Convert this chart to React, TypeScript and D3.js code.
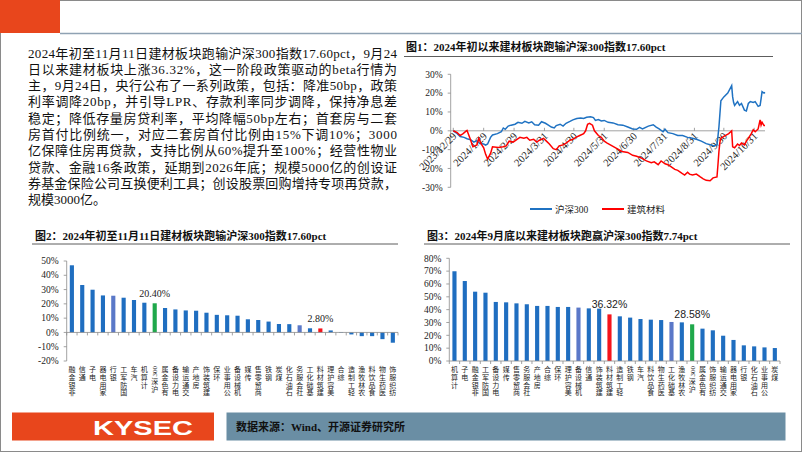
import React from "react";
import * as d3 from "d3";

const SERIF = '"Liberation Serif", "Times New Roman", "Noto Sans CJK SC", serif';
const SANS = '"Liberation Sans", Arial, "Noto Sans CJK SC", sans-serif';
const CJK = '"Noto Sans CJK SC", "Liberation Serif", serif';

// ---------- text block ----------
const paragraphLines = [
  "2024年初至11月11日建材板块跑输沪深300指数17.60pct，9月24",
  "日以来建材板块上涨36.32%，这一阶段政策驱动的beta行情为",
  "主，9月24日，央行公布了一系列政策，包括：降准50bp，政策",
  "利率调降20bp，并引导LPR、存款利率同步调降，保持净息差",
  "稳定；降低存量房贷利率，平均降幅50bp左右；首套房与二套",
  "房首付比例统一，对应二套房首付比例由15%下调10%；3000",
  "亿保障住房再贷款，支持比例从60%提升至100%；经营性物业",
  "贷款、金融16条政策，延期到2026年底；规模5000亿的创设证",
  "券基金保险公司互换便利工具；创设股票回购增持专项再贷款，",
  "规模3000亿。",
];

// ---------- chart 1 ----------
const title1 = "图1：2024年初以来建材板块跑输沪深300指数17.60pct";
const yTicks1 = [-30, -20, -10, 0, 10, 20, 30];
const xTickLabels1 = [
  "2023/12/29", "2024/1/29", "2024/2/29", "2024/3/31", "2024/4/30", "2024/5/31",
  "2024/6/30", "2024/7/31", "2024/8/31", "2024/9/30", "2024/10/31",
];
const dateDomain1 = ["2023-12-29", "2024-11-11"];
const seriesNames1 = ["沪深300", "建筑材料"];

const hs300Dates = [
  "2023-12-29", "2024-01-02", "2024-01-05", "2024-01-09", "2024-01-12", "2024-01-16", "2024-01-19",
  "2024-01-22", "2024-01-25", "2024-01-29", "2024-01-31", "2024-02-02", "2024-02-05", "2024-02-07",
  "2024-02-12", "2024-02-16", "2024-02-18", "2024-02-20", "2024-02-23", "2024-02-26", "2024-03-01",
  "2024-03-04", "2024-03-08", "2024-03-11", "2024-03-15", "2024-03-18", "2024-03-21", "2024-03-25",
  "2024-03-28", "2024-04-01", "2024-04-04", "2024-04-07", "2024-04-10", "2024-04-12", "2024-04-16",
  "2024-04-19", "2024-04-22", "2024-04-26", "2024-04-29", "2024-05-03", "2024-05-07", "2024-05-10",
  "2024-05-13", "2024-05-17", "2024-05-20", "2024-05-22", "2024-05-25", "2024-05-28", "2024-05-31",
  "2024-06-04", "2024-06-09", "2024-06-14", "2024-06-19", "2024-06-24", "2024-06-29", "2024-07-03",
  "2024-07-06", "2024-07-09", "2024-07-15", "2024-07-20", "2024-07-23", "2024-07-26", "2024-07-30",
  "2024-08-01", "2024-08-04", "2024-08-09", "2024-08-14", "2024-08-19", "2024-08-24", "2024-08-29",
  "2024-09-02", "2024-09-07", "2024-09-12", "2024-09-17", "2024-09-20", "2024-09-23", "2024-09-24",
  "2024-09-25", "2024-09-26", "2024-09-27", "2024-09-30", "2024-10-04", "2024-10-08", "2024-10-09",
  "2024-10-10", "2024-10-11", "2024-10-14", "2024-10-16", "2024-10-18", "2024-10-21", "2024-10-23",
  "2024-10-25", "2024-10-27", "2024-10-30", "2024-11-01", "2024-11-04", "2024-11-06", "2024-11-07",
  "2024-11-08", "2024-11-10", "2024-11-11",
];
const hs300Values = [
  0, -1.5, -3.0, -3.5, -4.2, -4.8, -6.0,
  -5.2, -6.8, -7.0, -7.6, -7.0, -3.5, -2.2,
  -1.5, -0.5, 1.5, 0.8, 2.5, 3.0, 3.5,
  4.5, 4.0, 5.0, 4.2, 4.8, 3.2, 3.0,
  4.8, 4.0, 3.0, 2.0, 1.5, 2.8, 3.5,
  2.5, 4.0, 5.0, 5.8, 6.5, 6.8, 6.5,
  7.2, 7.5, 7.0, 5.5, 6.0, 5.2, 5.5,
  4.5, 4.2, 3.2, 3.0, 2.0, 1.0, 0.8,
  1.8, 1.0, 2.5, 3.2, 2.0, 1.0, -0.5,
  0.8, -1.0, -1.5, -2.5, -2.5, -3.5, -4.0,
  -4.5, -5.5, -6.8, -7.5, -8.0, -7.5, -3.0,
  2.0, 9.0, 16.0, 18.0, 20.0, 24.0, 18.0,
  15.0, 13.5, 15.5, 13.5, 14.5, 11.0, 10.5,
  14.5, 15.5, 15.0, 15.5, 13.0, 13.5, 17.0,
  20.8, 20.0, 20.4,
];

const jcDates = [
  "2023-12-29", "2024-01-02", "2024-01-05", "2024-01-08", "2024-01-11", "2024-01-12", "2024-01-15",
  "2024-01-18", "2024-01-22", "2024-01-24", "2024-01-26", "2024-01-29", "2024-01-31", "2024-02-02",
  "2024-02-05", "2024-02-07", "2024-02-13", "2024-02-18", "2024-02-21", "2024-02-24", "2024-02-28",
  "2024-03-03", "2024-03-06", "2024-03-10", "2024-03-13", "2024-03-16", "2024-03-20", "2024-03-23",
  "2024-03-26", "2024-03-30", "2024-04-02", "2024-04-05", "2024-04-09", "2024-04-12", "2024-04-15",
  "2024-04-19", "2024-04-22", "2024-04-26", "2024-04-29", "2024-05-02", "2024-05-06", "2024-05-10",
  "2024-05-12", "2024-05-14", "2024-05-16", "2024-05-19", "2024-05-21", "2024-05-25", "2024-05-28",
  "2024-05-31", "2024-06-03", "2024-06-08", "2024-06-13", "2024-06-18", "2024-06-24", "2024-06-29",
  "2024-07-03", "2024-07-08", "2024-07-13", "2024-07-18", "2024-07-21", "2024-07-25", "2024-07-28",
  "2024-08-01", "2024-08-04", "2024-08-07", "2024-08-11", "2024-08-14", "2024-08-18", "2024-08-21",
  "2024-08-24", "2024-08-26", "2024-08-29", "2024-09-02", "2024-09-06", "2024-09-09", "2024-09-12",
  "2024-09-16", "2024-09-19", "2024-09-23", "2024-09-24", "2024-09-25", "2024-09-26", "2024-09-27",
  "2024-09-30", "2024-10-05", "2024-10-08", "2024-10-09", "2024-10-11", "2024-10-14", "2024-10-16",
  "2024-10-18", "2024-10-21", "2024-10-23", "2024-10-25", "2024-10-28", "2024-10-30", "2024-11-01",
  "2024-11-04", "2024-11-06", "2024-11-07", "2024-11-08", "2024-11-10", "2024-11-11",
];
const jcValues = [
  0, -1.0, -2.5, -1.5, -0.2, 0.2, -4.0,
  -8.5, -7.5, -4.0, -6.5, -9.0, -12.5, -15.0,
  -12.0, -8.5, -8.8, -8.5, -8.0, -5.5, -6.0,
  -4.5, -3.5, -4.0, -3.5, -5.0, -4.5, -6.0,
  -5.0, -4.0, -5.5, -7.0, -9.5, -10.0, -8.0,
  -7.5, -6.5, -5.0, -4.5, -3.5, -2.5, -1.5,
  0.0, 3.5, 4.0, 3.0, 0.0, -2.5, -3.5,
  -5.5, -6.5, -8.0, -9.5, -11.0, -11.5, -13.0,
  -13.5, -14.5, -16.0, -17.0, -16.5, -18.0, -16.0,
  -17.5, -18.0, -19.0, -20.5, -21.0, -22.5, -23.5,
  -22.0, -23.0, -23.5, -23.0, -24.5, -25.5, -26.3,
  -26.5, -25.0, -24.5, -18.0, -11.0, -6.0, -4.0,
  -3.0, -1.5, 0.0, -8.5, -9.0, -7.0, -7.8,
  -6.5, -7.5, -5.5, -4.0, -1.5, 0.5, -0.5,
  1.0, 5.8, 3.0, 4.5, 2.8, 2.8,
];

// ---------- chart 2 ----------
const title2 = "图2：2024年初至11月11日建材板块跑输沪深300指数17.60pct";
const cats2 = [
  "非银金融", "通信", "电子", "家用电器", "银行", "国防军工", "汽车", "计算机", "沪深300",
  "有色金属", "电力设备", "交通运输", "房地产", "建筑装饰", "环保", "公用事业", "机械设备",
  "传媒", "商贸零售", "钢铁", "煤炭", "石油石化", "社会服务", "基础化工", "建筑材料",
  "美容护理", "综合", "轻工制造", "农林牧渔", "食品饮料", "医药生物", "纺织服饰",
];
const values2 = [
  47.0, 33.2, 29.9, 25.9, 25.7, 24.3, 22.7, 20.8, 20.4,
  17.1, 16.1, 15.4, 15.2, 13.8, 12.3, 12.0, 11.7,
  9.2, 8.7, 7.6, 5.9, 5.8, 5.0, 2.9, 2.8,
  1.4, -0.3, -1.4, -2.6, -2.6, -4.7, -7.2,
];
const yTicks2 = [-20, -10, 0, 10, 20, 30, 40, 50];
const purple2 = ["银行", "社会服务"];
const labelled2 = ["沪深300", "建筑材料"];

// ---------- chart 3 ----------
const title3 = "图3：2024年9月底以来建材板块跑赢沪深300指数7.74pct";
const cats3 = [
  "计算机", "电子", "非银金融", "国防军工", "电力设备", "传媒", "商贸零售", "社会服务",
  "房地产", "综合", "环保", "美容护理", "机械设备", "通信", "建筑装饰", "建筑材料",
  "轻工制造", "钢铁", "汽车", "食品饮料", "医药生物", "基础化工", "农林牧渔", "沪深300",
  "有色金属", "纺织服饰", "交通运输", "家用电器", "银行", "石油石化", "公用事业", "煤炭",
];
const values3 = [
  69.9, 62.3, 54.0, 53.2, 46.0, 45.7, 44.9, 44.2,
  42.9, 42.9, 42.1, 42.1, 41.6, 41.0, 40.8, 36.32,
  34.8, 33.8, 32.7, 32.2, 31.9, 30.4, 30.1, 28.58,
  25.2, 23.9, 19.7, 16.4, 12.2, 11.4, 10.6, 10.1,
];
const yTicks3 = [0, 10, 20, 30, 40, 50, 60, 70, 80];
const purple3 = ["机械设备", "基础化工"];
const labelled3 = ["建筑材料", "沪深300"];

const footerText = "数据来源：Wind、开源证券研究所";

// ---------- colours ----------
const C_BLUE = "#1F6EC0";
const C_PURPLE = "#5A78C8";
const C_GREEN = "#1FA84B";
const C_RED = "#F5141B";
const C_AXIS = "#8A8A8A";
const C_ORANGE = "#E8461C";
const C_FOOT = "#6A8EA4";

function barColor(cat: string, purple: string[]) {
  if (cat === "沪深300") return C_GREEN;
  if (cat === "建筑材料") return C_RED;
  if (purple.includes(cat)) return C_PURPLE;
  return C_BLUE;
}

// Vertical category label: reads bottom-to-top, CJK glyphs upright, top anchored at y
function VLabel({ x, y, text, fs }: { x: number; y: number; text: string; fs: number }) {
  const m = text.match(/^([^A-Za-z0-9]*)([A-Za-z0-9.%]*)$/);
  const cjkPart = m ? m[1] : text;
  const latinPart = m ? m[2] : "";
  const latinLen = latinPart.length * fs * 0.5;
  const cjkTop = latinPart ? y + latinLen + 1.2 : y;
  const reversed = Array.from(cjkPart).reverse().join("");
  return (
    <g>
      {latinPart && (
        <text transform={`translate(${x + fs * 0.35},${y + latinLen}) rotate(-90)`}
          fontSize={fs} fontFamily={SERIF} fill="#222">{latinPart}</text>
      )}
      <text x={x} y={cjkTop} fontSize={fs} fontFamily={CJK} fill="#222"
        writingMode="vertical-rl" letterSpacing={0.7}
        style={{ writingMode: "vertical-rl" as any }}>{reversed}</text>
    </g>
  );
}

function BarChart(props: {
  cats: string[]; values: number[]; yTicks: number[]; purple: string[]; labelled: string[];
  x0: number; x1: number; yTop: number; yBot: number; labelFont: string; labelFs: number;
}) {
  const { cats, values, yTicks, purple, labelled, x0, x1, yTop, yBot, labelFont, labelFs } = props;
  const y = d3.scaleLinear().domain([yTicks[0], yTicks[yTicks.length - 1]]).range([yBot, yTop]);
  const x = d3.scaleBand().domain(cats).range([x0, x1]).paddingInner(0.6).paddingOuter(0.3);
  const step = x.step();
  const y0 = y(0);
  return (
    <g>
      {yTicks.map((t) => (
        <g key={t}>
          <line x1={x0 - 3} x2={x0} y1={y(t)} y2={y(t)} stroke={C_AXIS} strokeWidth={0.8} />
          <text x={x0 - 8} y={y(t) + 3.2} textAnchor="end" fontSize={9.5} fontFamily={SERIF} fill="#222">{t}%</text>
        </g>
      ))}
      <line x1={x0} x2={x0} y1={yTop} y2={yBot} stroke={C_AXIS} strokeWidth={0.8} />
      {cats.map((c, i) => {
        const v = values[i];
        const bx = x(c)!;
        return (
          <rect key={c} x={bx} width={x.bandwidth()} y={Math.min(y(v), y0)}
            height={Math.abs(y(v) - y0)} fill={barColor(c, purple)} />
        );
      })}
      <line x1={x0} x2={x1} y1={y0} y2={y0} stroke={C_AXIS} strokeWidth={0.8} />
      {d3.range(cats.length + 1).map((i) => (
        <line key={i} x1={x0 + i * step} x2={x0 + i * step} y1={y0} y2={y0 + 3} stroke={C_AXIS} strokeWidth={0.8} />
      ))}
      {cats.map((c, i) =>
        labelled.includes(c) ? (
          <text key={"l" + c} x={x(c)! + x.bandwidth() / 2} y={y(values[i]) - 6} textAnchor="middle"
            fontSize={labelFs} fontFamily={labelFont} fill="#222">{values[i].toFixed(2)}%</text>
        ) : null
      )}
      {cats.map((c) => (
        <VLabel key={"v" + c} x={x(c)! + x.bandwidth() / 2} y={yBot + 5} text={c} fs={7} />
      ))}
    </g>
  );
}

function LineChart() {
  const parse = d3.timeParse("%Y-%m-%d");
  const parseTick = d3.timeParse("%Y/%m/%d");
  const x = d3.scaleTime().domain(dateDomain1.map((d) => parse(d)!)).range([453.3, 765]);
  const y = d3.scaleLinear().domain([-30, 30]).range([187.3, 74.3]);
  const axX = 450.7;
  const y0 = y(0);
  const line = d3.line<[Date, number]>().x((d) => x(d[0])).y((d) => y(d[1]));
  const s1: [Date, number][] = hs300Dates.map((d, i) => [parse(d)!, hs300Values[i]]);
  const s2: [Date, number][] = jcDates.map((d, i) => [parse(d)!, jcValues[i]]);
  return (
    <g>
      {yTicks1.map((t) => (
        <g key={t}>
          <line x1={axX - 3} x2={axX} y1={y(t)} y2={y(t)} stroke={C_AXIS} strokeWidth={0.8} />
          <text x={axX - 8} y={y(t) + 3.2} textAnchor="end" fontSize={9.5} fontFamily={SERIF} fill="#222">{t}%</text>
        </g>
      ))}
      <line x1={axX} x2={axX} y1={y(30)} y2={y(-30)} stroke={C_AXIS} strokeWidth={0.8} />
      <line x1={axX} x2={765} y1={y0} y2={y0} stroke={C_AXIS} strokeWidth={0.8} />
      {xTickLabels1.map((lbl) => {
        const tx = x(parseTick(lbl)!);
        return (
          <g key={lbl}>
            <line x1={tx} x2={tx} y1={y0} y2={y0 - 3} stroke={C_AXIS} strokeWidth={0.8} />
            <text transform={`translate(${tx + 4},${y0 + 6}) rotate(-45)`} textAnchor="end"
              fontSize={10.5} fontFamily={SERIF} fill="#222">{lbl}</text>
          </g>
        );
      })}
      <path d={line(s1)!} fill="none" stroke="#1F72C2" strokeWidth={1.5} />
      <path d={line(s2)!} fill="none" stroke="#FF0000" strokeWidth={1.5} />
      <g>
        <line x1={530} x2={552} y1={209} y2={209} stroke="#1F72C2" strokeWidth={2} />
        <text x={555} y={212.5} fontSize={9.5} fontFamily={SERIF} fill="#222">{seriesNames1[0]}</text>
        <line x1={602} x2={624} y1={209} y2={209} stroke="#FF0000" strokeWidth={2} />
        <text x={627} y={212.5} fontSize={9.5} fontFamily={SERIF} fill="#222">{seriesNames1[1]}</text>
      </g>
    </g>
  );
}

export default function App() {
  return (
    <svg width={802} height={452} viewBox="0 0 802 452"
      style={{ position: "absolute", left: 0, top: 0, display: "block", background: "#fff" }}>
      <rect x={0} y={0} width={802} height={452} fill="#fff" />
      <rect x={0.5} y={0.5} width={801} height={451} fill="none" stroke="#8a8a8a" strokeWidth={1} />
      <rect x={0} y={0} width={60} height={33} fill={C_ORANGE} />
      <line x1={60} x2={802} y1={33.5} y2={33.5} stroke="#8FA2B3" strokeWidth={1.5} />

      {paragraphLines.map((l, i) => (
        <text key={i} x={28} y={57.5 + i * 16.3} fontSize={13} fontFamily={SERIF} fill="#111"
          {...(i < paragraphLines.length - 1 ? { textLength: 369, lengthAdjust: "spacing" } : {})}>{l}</text>
      ))}

      <text x={406} y={51} fontSize={11} fontWeight="bold" fontFamily={SERIF} fill="#111">{title1}</text>
      <line x1={404} x2={773} y1={56.5} y2={56.5} stroke="#333" strokeWidth={0.8} />
      <LineChart />

      <text x={35} y={239.5} fontSize={11} fontWeight="bold" fontFamily={SERIF} fill="#111">{title2}</text>
      <line x1={32} x2={398} y1={244} y2={244} stroke="#333" strokeWidth={0.8} />
      <BarChart cats={cats2} values={values2} yTicks={yTicks2} purple={purple2} labelled={labelled2}
        x0={66.7} x1={398} yTop={261} yBot={361} labelFont={SERIF} labelFs={10} />

      <text x={427} y={240} fontSize={11} fontWeight="bold" fontFamily={SERIF} fill="#111">{title3}</text>
      <line x1={424} x2={790} y1={244} y2={244} stroke="#333" strokeWidth={0.8} />
      <BarChart cats={cats3} values={values3} yTicks={yTicks3} purple={purple3} labelled={labelled3}
        x0={449.3} x1={780} yTop={258.3} yBot={361} labelFont={SANS} labelFs={10.5} />

      <rect x={12} y={412.5} width={202} height={28} fill={C_ORANGE} />
      <text x={143} y={434.5} textAnchor="middle" fontSize={21} fontWeight="bold" fontFamily={SANS}
        fill="#fff" textLength={100} lengthAdjust="spacingAndGlyphs">KYSEC</text>
      <rect x={226.5} y={412.5} width={559} height={28} fill={C_FOOT} />
      <text x={236} y={430.5} fontSize={11} fontWeight="bold" fontFamily={SERIF} fill="#111">{footerText}</text>
    </svg>
  );
}
